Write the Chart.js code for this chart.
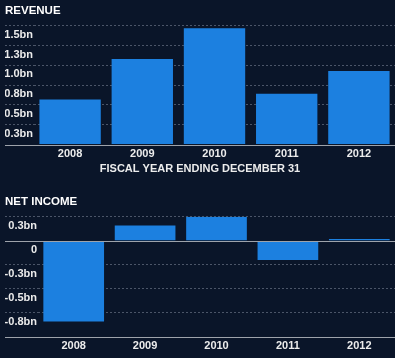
<!DOCTYPE html>
<html>
<head>
<meta charset="utf-8">
<script src="https://cdn.jsdelivr.net/npm/chart.js@4"></script>
<style>
  html, body { margin: 0; padding: 0; background: #0a1529; }
  #wrap { position: relative; width: 395px; height: 358px; }
  #revenueChart { position: absolute; left: 0; top: 0; }
  #incomeChart { position: absolute; left: 0; top: 180px; }
</style>
</head>
<body>
<div id="wrap">
  <canvas id="revenueChart" width="395" height="180"></canvas>
  <canvas id="incomeChart" width="395" height="178"></canvas>
</div>
<script>
const years = ['2008', '2009', '2010', '2011', '2012'];
const revenue = [0.57, 1.08, 1.47, 0.64, 0.93];       // bn
const netIncome = [-0.84, 0.16, 0.25, -0.2, 0.02];    // bn
const revenueTicks = { min: 0, max: 1.5, step: 0.25 };
const incomeTicks = { min: -1, max: 0.25, step: 0.25 };

const barColor = '#1c80e0';
const textColor = '#ececec';
const gridColor = 'rgba(140,150,168,0.5)';
const axisColor = '#9ea3ab';
const font = 'Liberation Sans, Arial, sans-serif';

Chart.defaults.font.family = font;
Chart.defaults.font.weight = 'bold';
Chart.defaults.color = textColor;
Chart.defaults.animation = false;
Chart.defaults.responsive = false;

// solid lines at zero and at the bottom of the scale, running under the tick labels too
const solidLines = {
  id: 'solidLines',
  afterDatasetsDraw(chart, args, opts) {
    const y = chart.scales.y;
    const ctx = chart.ctx;
    ctx.save();
    ctx.strokeStyle = opts.color;
    ctx.lineWidth = 1;
    opts.values.forEach(v => {
      const py = Math.round(y.getPixelForValue(v)) + 0.5;
      ctx.beginPath();
      ctx.moveTo(y.left, py);
      ctx.lineTo(chart.chartArea.right, py);
      ctx.stroke();
    });
    ctx.restore();
  }
};

function yScale(t, width, labelFn) {
  const hidden = c => c.tick && (c.tick.value === 0 || c.tick.value === t.min) ? 'transparent' : gridColor;
  return {
    min: t.min,
    max: t.max,
    afterFit: s => { s.width = width; },
    border: { display: false, dash: [2, 2] },
    grid: {
      color: hidden,
      tickColor: hidden,
      tickLength: width,
      tickBorderDash: [2, 2]
    },
    ticks: {
      stepSize: t.step,
      padding: 1 - width,
      labelOffset: 9,
      font: { size: 11, weight: 'bold' },
      callback: labelFn
    }
  };
}

function xScale(pad) {
  return {
    grid: { display: false, drawTicks: false },
    border: { display: false },
    ticks: { padding: pad, font: { size: 11, weight: 'bold' } }
  };
}

// 1. Revenue
new Chart(document.getElementById('revenueChart'), {
  type: 'bar',
  data: {
    labels: years,
    datasets: [{ data: revenue, backgroundColor: barColor, barPercentage: 0.85, categoryPercentage: 1 }]
  },
  options: {
    layout: { padding: { left: 5, right: 0, top: 0, bottom: 2 } },
    plugins: {
      legend: { display: false },
      tooltip: { enabled: false },
      title: {
        display: true, text: 'REVENUE', align: 'start', color: '#ffffff',
        font: { size: 11.5, weight: 'bold' }, padding: { top: 4, bottom: 8 }
      },
      subtitle: {
        display: true, text: 'FISCAL YEAR ENDING DECEMBER 31', position: 'bottom',
        color: textColor, font: { size: 11, weight: 'bold', lineHeight: 1.3 }, padding: { top: -2, bottom: 2 }
      },
      solidLines: { color: axisColor, values: [0] }
    },
    scales: {
      x: xScale(3),
      y: yScale(revenueTicks, 29, v => v === 0 ? '' : v.toFixed(1) + 'bn')
    }
  },
  plugins: [solidLines]
});

// 2. Net income
new Chart(document.getElementById('incomeChart'), {
  type: 'bar',
  data: {
    labels: years,
    datasets: [{ data: netIncome, backgroundColor: barColor, barPercentage: 0.85, categoryPercentage: 1 }]
  },
  options: {
    layout: { padding: { left: 5, right: 0, top: 0, bottom: 2 } },
    plugins: {
      legend: { display: false },
      tooltip: { enabled: false },
      title: {
        display: true, text: 'NET INCOME', align: 'start', color: '#ffffff',
        font: { size: 11.5, weight: 'bold' }, padding: { top: 15, bottom: 8 }
      },
      solidLines: { color: axisColor, values: [0, incomeTicks.min] }
    },
    scales: {
      x: xScale(3),
      y: yScale(incomeTicks, 33, v => v === incomeTicks.min ? '' : v === 0 ? '0' : v.toFixed(1) + 'bn')
    }
  },
  plugins: [solidLines]
});
</script>
</body>
</html>
